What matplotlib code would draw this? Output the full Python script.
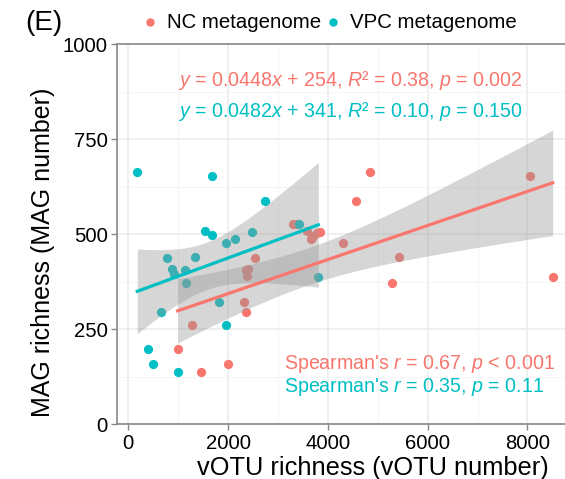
import matplotlib
matplotlib.use("Agg")
import matplotlib.pyplot as plt
from matplotlib.lines import Line2D
import numpy as np

plt.rcParams['font.family'] = ['Liberation Sans', 'DejaVu Sans']
plt.rcParams['mathtext.fontset'] = 'custom'
plt.rcParams['mathtext.rm'] = 'Liberation Sans'
plt.rcParams['mathtext.it'] = 'Liberation Sans:italic'

# NC metagenome (vOTU number, MAG number)
nc_x = [990, 1457, 2004, 1283, 2353, 2325, 2373, 2353, 2393, 2545, 3307, 3375,
        3575, 3655, 3707, 3776, 3842, 4309, 4850, 4569, 5431, 5291, 8050, 8505]
nc_y = [197, 138, 158, 260, 295, 322, 391, 406, 408, 436, 527, 527,
        509, 486, 495, 502, 506, 476, 664, 588, 441, 371, 653, 388]

# VPC metagenome
vpc_x = [180, 1677, 2733, 1537, 1671, 2485, 1958, 2132, 770, 1337, 882, 1136,
         916, 1150, 661, 1818, 1958, 401, 501, 1002, 3421, 3808]
vpc_y = [664, 654, 588, 509, 498, 506, 476, 487, 437, 441, 408, 407,
         395, 371, 295, 322, 261, 197, 158, 138, 527, 388]

# reported linear fits (slope, intercept)
nc_fit = (0.0448, 254)
vpc_fit = (0.0482, 341)

groups = ['NC metagenome', 'VPC metagenome']
red = '#F8766D'
teal = '#00BFC4'

eq_nc = r'$y$ = 0.0448$x$ + 254, $R$² = 0.38, $p$ = 0.002'
eq_vpc = r'$y$ = 0.0482$x$ + 341, $R$² = 0.10, $p$ = 0.150'
sp_nc = r"Spearman's $r$ = 0.67, $p$ < 0.001"
sp_vpc = r"Spearman's $r$ = 0.35, $p$ = 0.11"


def lm_band(x, y, coef, t):
    # band centred on the reported line, width from the scatter around the lsq fit
    x = np.asarray(x, float)
    y = np.asarray(y, float)
    n = len(x)
    bb, aa = np.polyfit(x, y, 1)
    res = y - (aa + bb * x)
    s = np.sqrt(np.sum(res ** 2) / (n - 2))
    xs = np.linspace(x.min(), x.max(), 80)
    se = s * np.sqrt(1 / n + (xs - x.mean()) ** 2 / np.sum((x - x.mean()) ** 2))
    b, a = coef
    fit = a + b * xs
    return xs, fit, fit - t * se, fit + t * se


W, H = 565, 479
fig = plt.figure(figsize=(W / 100, H / 100), dpi=100)
# panel runs past the right edge of the (cropped) original figure
ax = fig.add_axes([117.3 / W, 1 - 424.3 / H, (629 - 117.3) / W, (424.3 - 44) / H])

ax.scatter(nc_x, nc_y, s=44, color=red, linewidths=0, zorder=3)
ax.scatter(vpc_x, vpc_y, s=44, color=teal, linewidths=0, zorder=3)

for x, y, cf, c, t in [(nc_x, nc_y, nc_fit, red, 2.074), (vpc_x, vpc_y, vpc_fit, teal, 2.086)]:
    xs, fit, lo, hi = lm_band(x, y, cf, t)
    ax.fill_between(xs, lo, hi, color='#999999', alpha=0.4, linewidth=0, zorder=4)
    ax.plot(xs, fit, color=c, lw=2.3, zorder=5)

ax.set_xlim(-220, 10034)
ax.set_ylim(0, 1000)
ax.set_xticks([0, 2000, 4000, 6000, 8000])
ax.set_yticks([0, 250, 500, 750, 1000])
ax.set_xticks([1000, 3000, 5000, 7000, 9000], minor=True)
ax.set_yticks([125, 375, 625, 875], minor=True)
ax.grid(which='major', color='#ebebeb', lw=1.1)
ax.grid(which='minor', color='#f4f4f4', lw=0.6)
ax.set_axisbelow(True)
ax.tick_params(which='major', labelsize=14.6, color='#888888', length=4, width=1, pad=3)
ax.tick_params(which='minor', length=0)
for side in ['left', 'top', 'bottom']:
    ax.spines[side].set_color('#888888')
    ax.spines[side].set_linewidth(1.2)
ax.spines['right'].set_visible(False)

ax.set_xlabel('vOTU richness (vOTU number)', fontsize=18.3)
ax.xaxis.set_label_coords(0.5, -(475 - 424.3) / (424.3 - 44))
ax.xaxis.label.set_verticalalignment('baseline')
ax.set_ylabel('MAG richness (MAG number)', fontsize=18)
ax.yaxis.set_label_coords(-(117.3 - 55) / (629 - 117.3), (424.3 - 252) / (424.3 - 44))

ax.text(1000, 905, eq_nc, color=red, fontsize=14.1, va='center', ha='left')
ax.text(1000, 823, eq_vpc, color=teal, fontsize=14.1, va='center', ha='left')
ax.text(3130, 159, sp_nc, color=red, fontsize=14.1, va='center', ha='left')
ax.text(3130, 99, sp_vpc, color=teal, fontsize=14.1, va='center', ha='left')

fig.text(25 / W, 1 - 22.5 / H, '(E)', fontsize=20, va='center', ha='left')

# legend across the top
for lab, c, xd in zip(groups, [red, teal], [150, 333]):
    fig.add_artist(Line2D([xd / W], [1 - 22 / H], marker='o', ms=6, color=c,
                          mec='none', transform=fig.transFigure))
    fig.text((xd + 17) / W, 1 - 22 / H, lab, fontsize=14.7, va='center', ha='left')

fig.savefig('out.png', dpi=100)
